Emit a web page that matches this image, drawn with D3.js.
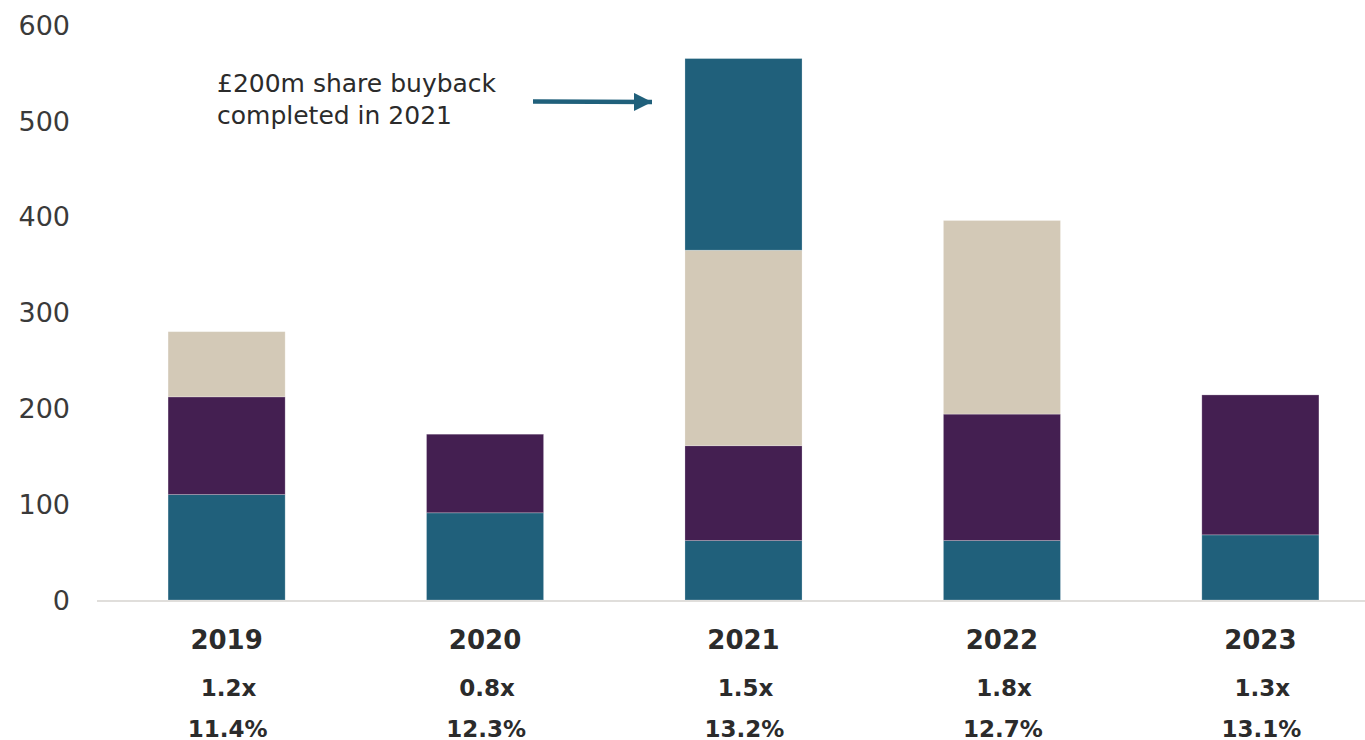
<!DOCTYPE html>
<html>
<head>
<meta charset="utf-8">
<script src="https://cdn.jsdelivr.net/npm/d3@7"></script>
<style>
  body { margin: 0; background: #fff; }
  text { font-family: "DejaVu Sans", Lato, sans-serif; fill: #2b2b2b; }
</style>
</head>
<body>
<script>
// Chart data
var years = ["2019", "2020", "2021", "2022", "2023"];
var ordinary = [110, 91, 62, 62, 68];
var interim = [102, 82, 99, 132, 146];
var special = [68, 0, 204, 202, 0];
var buyback = [0, 0, 200, 0, 0];
var cover = ["1.2x", "0.8x", "1.5x", "1.8x", "1.3x"];
var ratio = ["11.4%", "12.3%", "13.2%", "12.7%", "13.1%"];
var yTicks = [0, 100, 200, 300, 400, 500, 600];
var note = ["£200m share buyback", "completed in 2021"];

var svgWidth = 1365;
var svgHeight = 740;

var keys = ["ordinary", "interim", "special", "buyback"];
var colors = {ordinary: "#20607b", interim: "#441f51", special: "#d3c9b7", buyback: "#20607b"};

var rows = years.map(function(y, i) {
  return {year: y, ordinary: ordinary[i], interim: interim[i], special: special[i], buyback: buyback[i]};
});

var svg = d3.select("body")
  .append("svg")
  .attr("width", svgWidth)
  .attr("height", svgHeight);

var x = d3.scaleBand()
  .domain(years)
  .range([97, 1390])
  .paddingInner(0.547)
  .paddingOuter(0.275);

var y = d3.scaleLinear()
  .domain([0, 600])
  .range([600, 25]);

// y labels
svg.append("g")
  .selectAll("text")
  .data(yTicks)
  .join("text")
    .attr("x", 70)
    .attr("y", d => y(d))
    .attr("dy", "0.36em")
    .attr("text-anchor", "end")
    .style("font-size", "27px")
    .style("fill", "#3a3a3a")
    .text(d => d);

// stacked bars
var series = d3.stack().keys(keys)(rows);

svg.append("g")
  .selectAll("g")
  .data(series)
  .join("g")
    .attr("fill", d => colors[d.key])
  .selectAll("rect")
  .data(d => d.filter(s => s[1] > s[0]))
  .join("rect")
    .attr("x", d => x(d.data.year))
    .attr("y", d => y(d[1]))
    .attr("width", x.bandwidth())
    .attr("height", d => y(d[0]) - y(d[1]))
    .attr("stroke", "rgba(255,255,255,0.3)")
    .attr("stroke-width", 0.8);

// baseline
svg.append("line")
  .attr("x1", 97)
  .attr("x2", svgWidth)
  .attr("y1", y(0) + 1)
  .attr("y2", y(0) + 1)
  .attr("stroke", "#e0dedb")
  .attr("stroke-width", 2);

// category labels
var labels = svg.append("g");
labels.selectAll(".yr")
  .data(years)
  .join("text")
    .attr("class", "yr")
    .attr("x", d => x(d) + x.bandwidth() / 2)
    .attr("y", 649)
    .attr("text-anchor", "middle")
    .style("font-size", "26px")
    .style("font-weight", "bold")
    .text(d => d);

labels.selectAll(".cv")
  .data(cover)
  .join("text")
    .attr("class", "cv")
    .attr("x", (d, i) => x(years[i]) + x.bandwidth() / 2 + 2)
    .attr("y", 696)
    .attr("text-anchor", "middle")
    .style("font-size", "23px")
    .style("font-weight", "bold")
    .text(d => d);

labels.selectAll(".rt")
  .data(ratio)
  .join("text")
    .attr("class", "rt")
    .attr("x", (d, i) => x(years[i]) + x.bandwidth() / 2 + 1)
    .attr("y", 737)
    .attr("text-anchor", "middle")
    .style("font-size", "23px")
    .style("font-weight", "bold")
    .text(d => d);

// annotation
svg.append("g")
  .selectAll("text")
  .data(note)
  .join("text")
    .attr("x", 217)
    .attr("y", (d, i) => 92 + i * 32)
    .style("font-size", "25px")
    .text(d => d);

svg.append("defs").append("marker")
  .attr("id", "head")
  .attr("viewBox", "0 0 10 10")
  .attr("refX", 10)
  .attr("refY", 5)
  .attr("markerWidth", 4)
  .attr("markerHeight", 4)
  .attr("markerUnits", "strokeWidth")
  .attr("orient", "auto")
  .append("path")
    .attr("d", "M0,0L10,5L0,10z")
    .attr("fill", "#20607b");

svg.append("line")
  .attr("x1", 533)
  .attr("y1", 101.5)
  .attr("x2", 652)
  .attr("y2", 102)
  .attr("stroke", "#20607b")
  .attr("stroke-width", 4.5)
  .attr("marker-end", "url(#head)");
</script>
</body>
</html>
